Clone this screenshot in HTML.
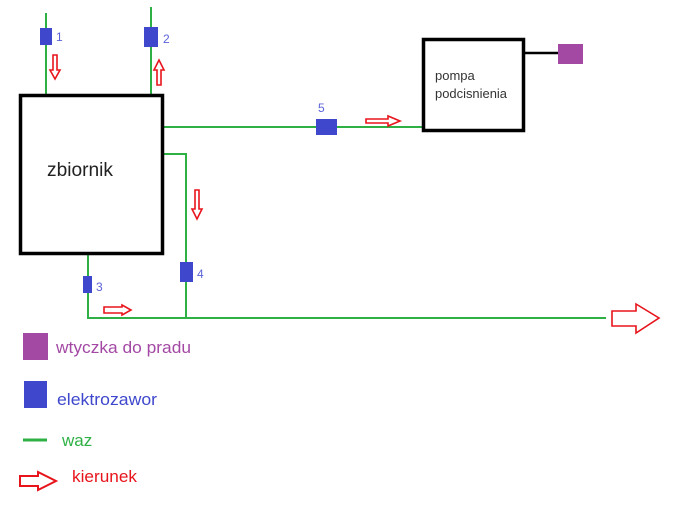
<!DOCTYPE html>
<html><head><meta charset="utf-8"><style>
html,body{margin:0;padding:0;background:#fff;width:677px;height:505px;overflow:hidden}
svg{display:block}
text{font-family:"Liberation Sans",sans-serif}
</style></head><body>
<svg width="677" height="505" viewBox="0 0 677 505">
<g stroke="#2eb045" stroke-width="2" fill="none">
<line x1="46" y1="13" x2="46" y2="94"/>
<line x1="151" y1="7" x2="151" y2="94"/>
<line x1="164" y1="127" x2="422" y2="127"/>
<polyline points="164,154 186,154 186,318"/>
<polyline points="88,255 88,318 606,318"/>
<line x1="23" y1="440" x2="47" y2="440" stroke-width="3"/>
</g>
<rect x="20.5" y="95.5" width="142" height="158" fill="#fff" stroke="#000" stroke-width="3.5"/>
<text x="47" y="176" font-size="19" fill="#222" textLength="66" lengthAdjust="spacingAndGlyphs">zbiornik</text>
<rect x="423.5" y="39.5" width="100" height="91" fill="#fff" stroke="#000" stroke-width="3.5"/>
<text x="435" y="80" font-size="13" fill="#333">pompa</text>
<text x="435" y="98" font-size="13" fill="#333" textLength="72" lengthAdjust="spacingAndGlyphs">podcisnienia</text>
<line x1="525" y1="53" x2="559" y2="53" stroke="#000" stroke-width="2.5"/>
<rect x="558" y="44" width="25" height="20" fill="#a349a4"/>
<g fill="#3f48cc">
<rect x="40" y="28" width="12" height="17"/>
<rect x="144" y="27" width="14" height="20"/>
<rect x="316" y="119" width="21" height="16"/>
<rect x="180" y="262" width="13" height="20"/>
<rect x="83" y="276" width="9" height="17"/>
<rect x="24" y="381" width="23" height="27"/>
</g>
<g fill="#5b63d8" font-size="12">
<text x="56" y="41">1</text>
<text x="163" y="43">2</text>
<text x="318" y="112">5</text>
<text x="197" y="278">4</text>
<text x="96" y="291">3</text>
</g>
<g fill="#fff" stroke="#e8141c" stroke-width="1.6">
<polygon points="53,55 57,55 57,70 60,70 55,79 50,70 53,70"/>
<polygon points="157,85 161,85 161,70 164,70 159,60 154,70 157,70"/>
<polygon points="195,190 199,190 199,209 202,209 197,219 192,209 195,209"/>
<polygon points="366,119 388,119 388,116 400,121 388,126 388,123 366,123"/>
<polygon points="104,307 122,307 122,305 131,310 122,315 122,313 104,313"/>
<polygon points="612,311 636,311 636,304 659,318 636,333 636,326 612,326"/>
<polygon points="20,476 38,476 38,472 56,481 38,490 38,486 20,486" stroke-width="2"/>
</g>
<rect x="23" y="333" width="25" height="27" fill="#a349a4"/>
<text x="56" y="353" font-size="17" fill="#a349a4" textLength="135" lengthAdjust="spacingAndGlyphs">wtyczka do pradu</text>
<text x="57" y="405" font-size="17" fill="#3f48cc" textLength="100" lengthAdjust="spacingAndGlyphs">elektrozawor</text>
<text x="62" y="446" font-size="17" fill="#2eb045">waz</text>
<text x="72" y="482" font-size="17" fill="#e8141c" textLength="65" lengthAdjust="spacingAndGlyphs">kierunek</text>
</svg>
</body></html>
